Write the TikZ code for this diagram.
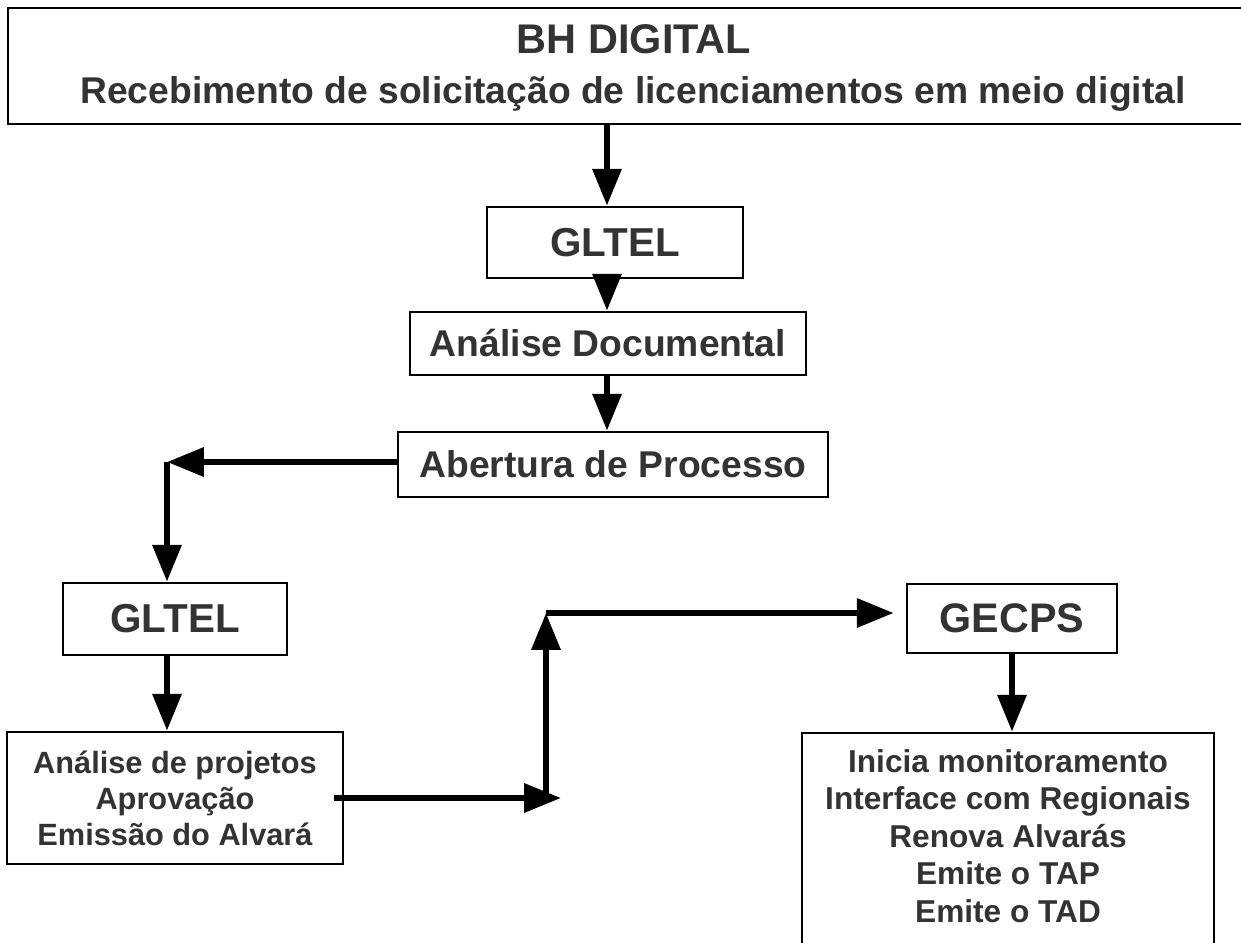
\documentclass[tikz,border=0pt]{standalone}
\usepackage{fontspec}
\setmainfont{Liberation Sans}
\usetikzlibrary{arrows.meta,calc,positioning}
\definecolor{txtgray}{HTML}{333333}
\tikzset{>={Triangle[width=16pt,length=21pt]},%
  box/.style={draw,line width=1.5pt,fill=white,inner sep=0pt},%
  flow/.style={->,line width=3.5pt},%
  lbl/.style={text=txtgray,font=\bfseries,align=center,inner sep=0pt}}

\begin{document}
\begin{tikzpicture}[x=0.02cm,y=-0.02cm]
    \useasboundingbox (0,0) rectangle (1241,943);
    % boxes
    \node[box,minimum width=24.84cm,minimum height=2.32cm] (bh) at (629,66) {};
    \node[lbl,anchor=base,font=\bfseries\fontsize{23.6}{28}\selectfont] (bhtitle) at (634,53) {BH DIGITAL};
    \node[lbl,anchor=base,font=\bfseries\fontsize{21.2}{25}\selectfont] (bhsub) at (633,103) {Recebimento de solicitação de licenciamentos em meio digital};
    \node[box,lbl,minimum width=5.12cm,minimum height=1.42cm,font=\bfseries\fontsize{23}{27}\selectfont] (gltel) at (615,242.5) {GLTEL};
    \node[box,lbl,minimum width=7.92cm,minimum height=1.26cm,font=\bfseries\fontsize{21.2}{25}\selectfont] (doc) at (608,343.5) {Análise Documental};
    \node[box,lbl,minimum width=8.6cm,minimum height=1.3cm,font=\bfseries\fontsize{21.2}{25}\selectfont] (abertura) at (613,464.5) {Abertura de Processo};
    \node[box,lbl,minimum width=4.48cm,minimum height=1.44cm,font=\bfseries\fontsize{23}{27}\selectfont] (gltelb) at (175,619) {GLTEL};
    \node[box,lbl,minimum width=6.72cm,minimum height=2.64cm,font=\bfseries\fontsize{17.5}{20.5}\selectfont] (proj) at (175,798) {Análise de projetos\\Aprovação\\Emissão do Alvará};
    \node[box,lbl,minimum width=4.2cm,minimum height=1.38cm,font=\bfseries\fontsize{23.5}{27}\selectfont] (gecps) at (1012,618.5) {GECPS};
    \node[box,minimum width=8.24cm,minimum height=4.54cm] (moni) at (1008,846.5) {};
    \node[lbl,font=\bfseries\fontsize{18}{21.4}\selectfont] (monitext) at (1008,836) {Inicia monitoramento\\Interface com Regionais\\Renova Alvarás\\Emite o TAP\\Emite o TAD};
    % arrows
    \coordinate (spine) at (607,0);
    \coordinate (corner) at (167,462);
    \coordinate (low) at (561,798);
    \coordinate (up) at (546,613);
    \draw[flow] (bh.south -| spine) -- (gltel.north -| spine);
    \draw[flow] ([yshift=0.08cm]gltel.south -| spine) -- (doc.north -| spine);
    \draw[flow] (doc.south -| spine) -- (abertura.north -| spine);
    \draw[flow] (abertura.west |- corner) -- (corner);
    \draw[flow] (corner) -- (gltelb.north -| corner);
    \draw[flow] (gltelb.south -| corner) -- (proj.north -| corner);
    \draw[flow] ([xshift=-0.2cm]proj.east) -- (low);
    \draw[flow] (low -| up) -- (up);
    \draw[flow] (up) -- ($(gecps.west |- up)+(-12,0)$);
    \draw[flow] (gecps.south) -- (moni.north -| gecps.south);
\end{tikzpicture}
\end{document}
